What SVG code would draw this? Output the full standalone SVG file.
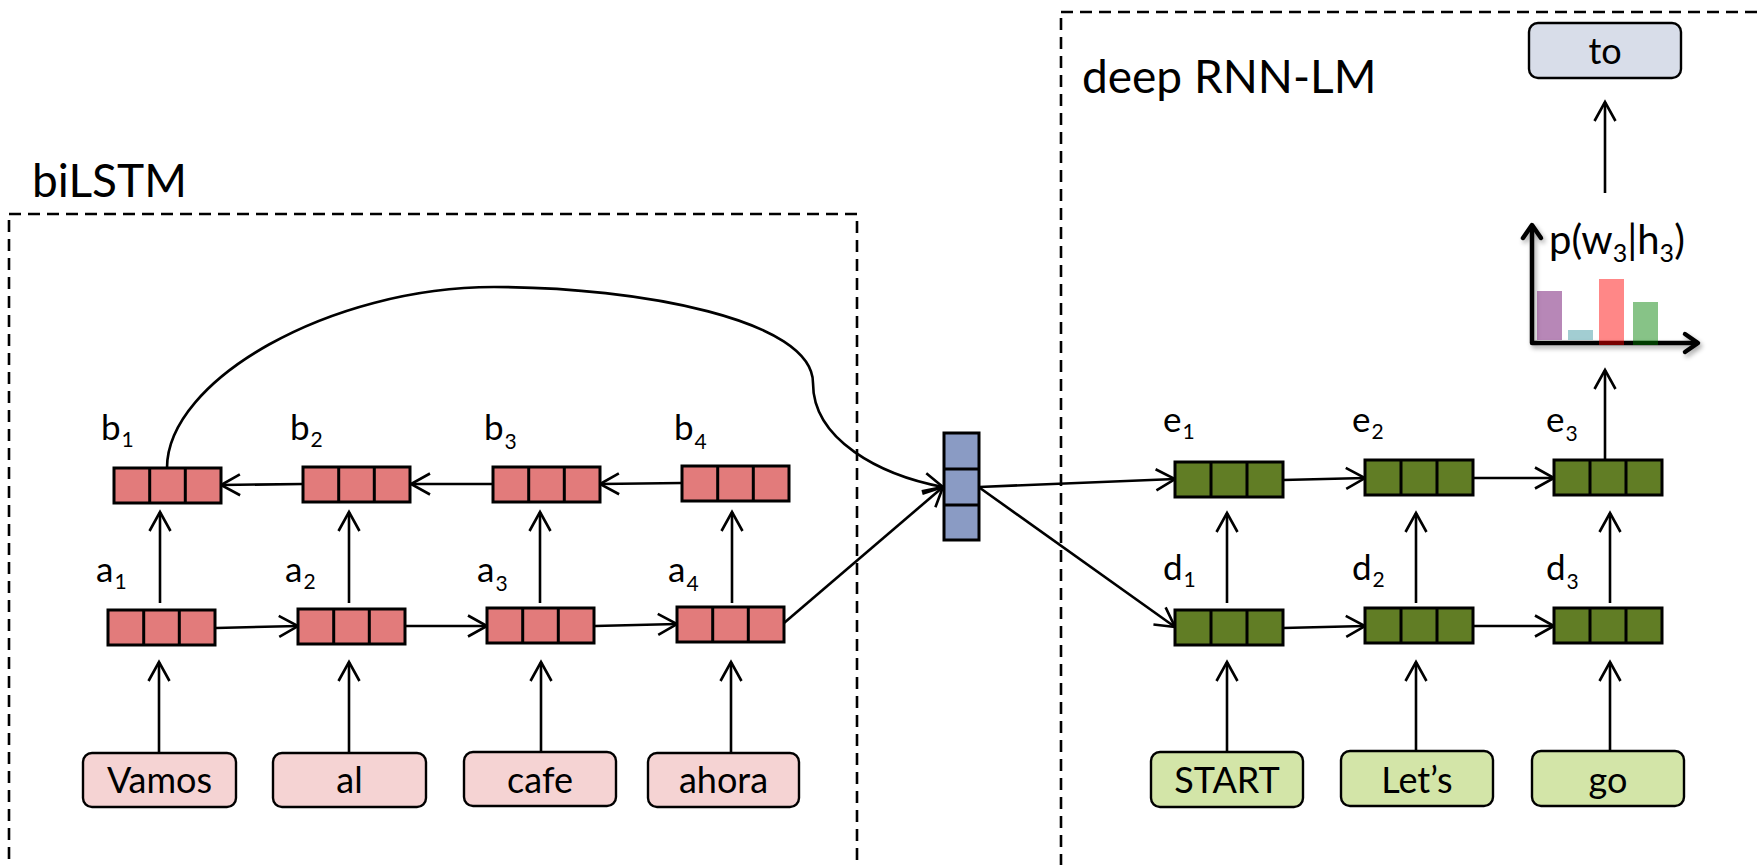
<svg xmlns="http://www.w3.org/2000/svg" xmlns:xlink="http://www.w3.org/1999/xlink" width="1757" height="865" viewBox="0 0 1757 865">
  <style>
    text { font-family: Lato, "Open Sans", "DejaVu Sans", sans-serif; fill: #000; }
    .title { font-size: 46px; }
    .word { font-size: 36px; text-anchor: middle; }
    .lbl { font-size: 35px; }
    .sub { font-size: 21px; }
    .frame { fill: none; stroke: #000; stroke-width: 2.6; stroke-dasharray: 12 7; }
    .edge { fill: none; stroke: #000; stroke-width: 2.6; marker-end: url(#arr); }
    .cell { stroke: #000; stroke-width: 3; }
    .inRed { fill: #f5d3d3; stroke: #000; stroke-width: 2.4; }
    .inGreen { fill: #d3e5a8; stroke: #000; stroke-width: 2.4; }
    .outBox { fill: #d8dde9; stroke: #000; stroke-width: 2.4; }
    .axis { fill: none; stroke: #000; stroke-width: 4.5; stroke-linejoin: round; marker-start: url(#axArr); marker-end: url(#axArr); }
  </style>
  <defs>
    <marker id="arr" markerUnits="userSpaceOnUse" markerWidth="30" markerHeight="30" viewBox="-24 -15 30 30" refX="0" refY="0" orient="auto">
      <path d="M-19,-10.5 L0,0 L-19,10.5" fill="none" stroke="#000" stroke-width="2.6"/>
    </marker>
    <marker id="axArr" markerUnits="userSpaceOnUse" markerWidth="30" markerHeight="30" viewBox="-20 -15 26 30" refX="0" refY="0" orient="auto-start-reverse">
      <path d="M-13,-9 L0,0 L-13,9" fill="none" stroke="#000" stroke-width="4.5" stroke-linecap="round" stroke-linejoin="round"/>
    </marker>
    <filter id="soft" x="-20%" y="-20%" width="150%" height="150%">
      <feGaussianBlur in="SourceAlpha" stdDeviation="2.5"/>
      <feOffset dx="2" dy="3" result="b"/>
      <feComponentTransfer><feFuncA type="linear" slope="0.35"/></feComponentTransfer>
      <feMerge><feMergeNode/><feMergeNode in="SourceGraphic"/></feMerge>
    </filter>
    <!-- three-cell hidden-state vectors -->
    <g id="redVec">
      <rect class="cell" width="107" height="35" fill="#e27b7b"/>
      <path class="cell" d="M35.7,0V35M71.3,0V35"/>
    </g>
    <g id="greenVec">
      <rect class="cell" width="108" height="35" fill="#617d25"/>
      <path class="cell" d="M36,0V35M72,0V35"/>
    </g>
  </defs>

  <rect width="1757" height="865" fill="#fff"/>

  <!-- module frames -->
  <g id="bilstm-frame">
    <rect class="frame" x="9" y="214" width="848" height="700"/>
    <text class="title" x="32" y="197">biLSTM</text>
  </g>
  <g id="rnnlm-frame">
    <rect class="frame" x="1061" y="12" width="800" height="900"/>
    <text class="title" x="1082" y="93">deep RNN-LM</text>
  </g>

  <!-- connectors -->
  <g id="edges">
    <!-- inputs to forward states -->
    <path class="edge" d="M159,752V662"/>
    <path class="edge" d="M349,752V662"/>
    <path class="edge" d="M541,752V662"/>
    <path class="edge" d="M731,752V662"/>
    <!-- forward to backward states -->
    <path class="edge" d="M160,603V512"/>
    <path class="edge" d="M349,603V512"/>
    <path class="edge" d="M540,603V512"/>
    <path class="edge" d="M732,603V512"/>
    <!-- forward recurrence -->
    <path class="edge" d="M216,628L298,626"/>
    <path class="edge" d="M406,626L487,626"/>
    <path class="edge" d="M595,626L677,624"/>
    <!-- backward recurrence -->
    <path class="edge" d="M303,484L221,485"/>
    <path class="edge" d="M493,484L411,484"/>
    <path class="edge" d="M682,483L600,484"/>
    <!-- encoder summary -->
    <path class="edge" d="M167,468C167,380 330,287 494,287C640,287 813,320 813,383C813,440 880,475 943,487"/>
    <path class="edge" d="M784,623L943,487"/>
    <!-- summary into the language model -->
    <path class="edge" d="M979,487L1175,479"/>
    <path class="edge" d="M980,488L1175,627"/>
    <!-- decoder inputs -->
    <path class="edge" d="M1227,752V662"/>
    <path class="edge" d="M1416,752V662"/>
    <path class="edge" d="M1610,752V662"/>
    <!-- layer 1 to layer 2 -->
    <path class="edge" d="M1227,603V513"/>
    <path class="edge" d="M1416,603V513"/>
    <path class="edge" d="M1610,603V513"/>
    <!-- recurrence -->
    <path class="edge" d="M1283,628L1365,626"/>
    <path class="edge" d="M1472,626L1554,626"/>
    <path class="edge" d="M1283,480L1365,478"/>
    <path class="edge" d="M1472,478L1554,478"/>
    <!-- output -->
    <path class="edge" d="M1605,460V370"/>
    <path class="edge" d="M1605,193V102"/>
  </g>

  <!-- source words -->
  <g id="in-vamos"><rect class="inRed" x="83" y="753" width="153" height="54" rx="9"/><text class="word" x="159.5" y="793">Vamos</text></g>
  <g id="in-al"><rect class="inRed" x="273" y="753" width="153" height="54" rx="9"/><text class="word" x="349.5" y="793">al</text></g>
  <g id="in-cafe"><rect class="inRed" x="464" y="752" width="152" height="54" rx="9"/><text class="word" x="540" y="793">cafe</text></g>
  <g id="in-ahora"><rect class="inRed" x="648" y="753" width="151" height="54" rx="9"/><text class="word" x="723.5" y="793">ahora</text></g>

  <!-- forward states -->
  <g id="a1"><use href="#redVec" x="108" y="610"/><text class="lbl" x="96" y="582">a<tspan class="sub" dx="1" dy="7">1</tspan></text></g>
  <g id="a2"><use href="#redVec" x="298" y="609"/><text class="lbl" x="285" y="582">a<tspan class="sub" dx="1" dy="7">2</tspan></text></g>
  <g id="a3"><use href="#redVec" x="487" y="608"/><text class="lbl" x="477" y="582">a<tspan class="sub" dx="1" dy="9">3</tspan></text></g>
  <g id="a4"><use href="#redVec" x="677" y="607"/><text class="lbl" x="668" y="582">a<tspan class="sub" dx="1" dy="9">4</tspan></text></g>

  <!-- backward states -->
  <g id="b1"><use href="#redVec" x="114" y="468"/><text class="lbl" x="101" y="440">b<tspan class="sub" dx="1" dy="7">1</tspan></text></g>
  <g id="b2"><use href="#redVec" x="303" y="467"/><text class="lbl" x="290" y="440">b<tspan class="sub" dx="1" dy="7">2</tspan></text></g>
  <g id="b3"><use href="#redVec" x="493" y="467"/><text class="lbl" x="484" y="440">b<tspan class="sub" dx="1" dy="9">3</tspan></text></g>
  <g id="b4"><use href="#redVec" x="682" y="466"/><text class="lbl" x="674" y="440">b<tspan class="sub" dx="1" dy="9">4</tspan></text></g>

  <!-- encoder summary vector -->
  <g id="summary">
    <rect class="cell" x="944" y="433" width="35" height="107" fill="#8a9bc4"/>
    <path class="cell" d="M944,469H979M944,505H979"/>
  </g>

  <!-- target words -->
  <g id="in-start"><rect class="inGreen" x="1151" y="752" width="152" height="55" rx="9"/><text class="word" x="1227" y="793">START</text></g>
  <g id="in-lets"><rect class="inGreen" x="1341" y="751" width="152" height="55" rx="9"/><text class="word" x="1417" y="793">Let’s</text></g>
  <g id="in-go"><rect class="inGreen" x="1532" y="751" width="152" height="55" rx="9"/><text class="word" x="1608" y="793">go</text></g>

  <!-- first layer -->
  <g id="d1"><use href="#greenVec" x="1175" y="610"/><text class="lbl" x="1163" y="580">d<tspan class="sub" dx="1" dy="7">1</tspan></text></g>
  <g id="d2"><use href="#greenVec" x="1365" y="608"/><text class="lbl" x="1352" y="580">d<tspan class="sub" dx="1" dy="7">2</tspan></text></g>
  <g id="d3"><use href="#greenVec" x="1554" y="608"/><text class="lbl" x="1546" y="580">d<tspan class="sub" dx="1" dy="9">3</tspan></text></g>

  <!-- second layer -->
  <g id="e1"><use href="#greenVec" x="1175" y="462"/><text class="lbl" x="1163" y="432">e<tspan class="sub" dx="1" dy="7">1</tspan></text></g>
  <g id="e2"><use href="#greenVec" x="1365" y="460"/><text class="lbl" x="1352" y="432">e<tspan class="sub" dx="1" dy="7">2</tspan></text></g>
  <g id="e3"><use href="#greenVec" x="1554" y="460"/><text class="lbl" x="1546" y="432">e<tspan class="sub" dx="1" dy="9">3</tspan></text></g>

  <!-- output distribution -->
  <g id="distribution">
    <path class="axis" d="M1532,225V343H1698" filter="url(#soft)"/>
    <rect x="1537" y="291" width="25" height="49" fill="#660066" opacity="0.47"/>
    <rect x="1568" y="330" width="25" height="10" fill="#3a94a0" opacity="0.47"/>
    <rect x="1599" y="279" width="25" height="66" fill="#ff0000" opacity="0.47"/>
    <rect x="1633" y="302" width="25" height="43" fill="#008000" opacity="0.47"/>
    <text x="1549" y="254" style="font-size:40px">p(w<tspan style="font-size:25px" dy="8">3</tspan><tspan dy="-8">|h</tspan><tspan style="font-size:25px" dy="8">3</tspan><tspan dy="-8">)</tspan></text>
  </g>

  <!-- predicted word -->
  <g id="out-to"><rect class="outBox" x="1529" y="23" width="152" height="55" rx="9"/><text class="word" x="1605" y="64">to</text></g>
</svg>
